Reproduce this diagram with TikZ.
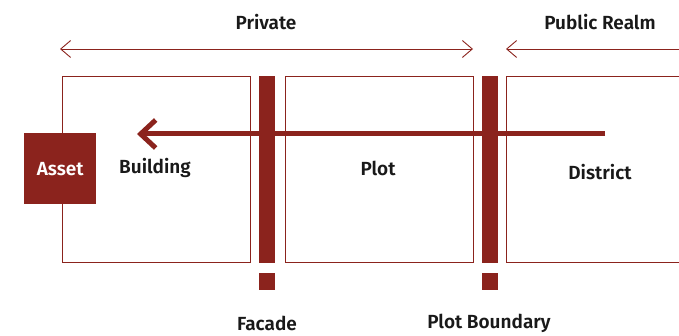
\documentclass[tikz,border=0pt]{standalone}
\usepackage{fontspec}
\setmainfont{Fira Sans}[BoldFont={Fira Sans SemiBold}]
\usetikzlibrary{arrows.meta}
\definecolor{brick}{HTML}{8B231D}
\tikzset{thinbarb/.tip={Straight Barb[length=10pt,width=17pt,line width=0.9pt]}}
\begin{document}
\begin{tikzpicture}[x=1pt,y=-1pt,
  zone/.style={draw=brick,line width=0.9pt},
  wall/.style={fill=brick,draw=none},
  lbl/.style={font=\fontsize{19}{21}\selectfont\bfseries,text=black!90,inner sep=0pt},
  span/.style={draw=brick,line width=0.9pt}]
\useasboundingbox (0,0) rectangle (679,336);
% zones
\draw[zone] (62,76) rectangle (250,262);
\draw[zone] (285,76) rectangle (473,262);
\draw[zone] (679,76) -- (506,76) -- (506,262) -- (679,262);
% walls
\fill[wall] (259,76) rectangle (275,263);
\fill[wall] (259,273) rectangle (275,290);
\fill[wall] (482,76) rectangle (498,263);
\fill[wall] (482,273) rectangle (498,290);
% main arrow
\coordinate (src) at (605,134);
\coordinate (dst) at (137,134);
\draw[brick,line width=5pt,-{Straight Barb[length=15pt,width=28pt,line width=5pt]}] (src) -- (dst);
% asset
\node[wall,minimum width=72pt,minimum height=71pt,inner sep=0pt,anchor=north west] (asset) at (24,133) {};
\node[lbl,text=white] (assetlbl) at (asset.center) {Asset};
% span arrows
\coordinate (pl) at (60,49);
\coordinate (pr) at (473,49);
\coordinate (ql) at (506,49);
\coordinate (qr) at (680,49);
\draw[span,thinbarb-thinbarb] (pl) -- (pr);
\draw[span,thinbarb-] (ql) -- (qr);
% labels
\node[lbl] (private) at (266,22) {Private};
\node[lbl] (public) at (600,22) {Public Realm};
\node[lbl] (building) at (155,168) {Building};
\node[lbl] (plot) at (378,168) {Plot};
\node[lbl] (district) at (600,172) {District};
\node[lbl] (facade) at (267,323) {Facade};
\node[lbl] (boundary) at (489,323) {Plot Boundary};
\end{tikzpicture}
\end{document}
